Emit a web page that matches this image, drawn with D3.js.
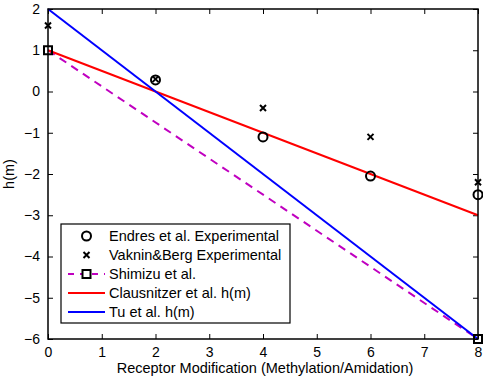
<!DOCTYPE html>
<html><head><meta charset="utf-8">
<script src="https://cdn.jsdelivr.net/npm/d3@7"></script>
<style>body{margin:0;background:#fff}svg{display:block}text{font-family:"Liberation Sans",Arial,sans-serif}</style>
</head><body><svg id="c" width="483" height="380"></svg>
<script>
const endresX = [2, 4, 6, 8];
const endresY = [0.28, -1.1, -2.05, -2.5];
const vakninX = [0, 2, 4, 6, 8];
const vakninY = [1.6, 0.3, -0.4, -1.1, -2.2];
const shimizuX = [0, 8];
const shimizuY = [1, -6];
const clausX = [0, 8];
const clausY = [1, -3];
const tuX = [0, 8];
const tuY = [2, -6];
const xTicks = [0,1,2,3,4,5,6,7,8];
const yTicks = [-6,-5,-4,-3,-2,-1,0,1,2];
const legendLabels = ["Endres et al. Experimental","Vaknin&Berg Experimental","Shimizu et al.","Clausnitzer et al. h(m)","Tu et al. h(m)"];

const svg = d3.select("#c");
const L=48, R=478, T=9, B=339;
const x = d3.scaleLinear().domain([0,8]).range([L,R]);
const y = d3.scaleLinear().domain([-6,2]).range([B,T]);

const gx = svg.append("g").attr("transform",`translate(0,${B})`)
  .call(d3.axisBottom(x).tickValues(xTicks).tickSizeInner(-5).tickSizeOuter(0).tickPadding(8));
const gxt = svg.append("g").attr("transform",`translate(0,${T})`)
  .call(d3.axisTop(x).tickValues(xTicks).tickSizeInner(-5).tickSizeOuter(0).tickFormat(""));
const gy = svg.append("g").attr("transform",`translate(${L},0)`)
  .call(d3.axisLeft(y).tickValues(yTicks).tickSizeInner(-5).tickSizeOuter(0).tickPadding(8).tickFormat(d=>d<0?"\u2212"+Math.abs(d):d));
const gyr = svg.append("g").attr("transform",`translate(${R},0)`)
  .call(d3.axisRight(y).tickValues(yTicks).tickSizeInner(-5).tickSizeOuter(0).tickFormat(""));
[gx,gxt,gy,gyr].forEach(g=>{
  g.select(".domain").remove();
  g.selectAll("line").attr("stroke","#000").attr("stroke-width",1);
  g.selectAll("text").attr("font-size",14).attr("fill","#000").attr("font-family","Liberation Sans, Arial, sans-serif");
});
gx.selectAll("text").attr("dy","0.7em");

const line = d3.line().x(d=>x(d[0])).y(d=>y(d[1]));
const plot = svg.append("g");
plot.append("path").datum(d3.zip(shimizuX,shimizuY)).attr("d",line).attr("fill","none")
  .attr("stroke","#c000c0").attr("stroke-width",2).attr("stroke-dasharray","8,6");
plot.append("path").datum(d3.zip(clausX,clausY)).attr("d",line).attr("fill","none")
  .attr("stroke","#ff0000").attr("stroke-width",2);
plot.append("path").datum(d3.zip(tuX,tuY)).attr("d",line).attr("fill","none")
  .attr("stroke","#0000ff").attr("stroke-width",2);

function square(g,cx,cy){ g.append("rect").attr("x",cx-4).attr("y",cy-4).attr("width",8).attr("height",8)
  .attr("fill","none").attr("stroke","#000").attr("stroke-width",2); }
function circ(g,cx,cy){ g.append("circle").attr("cx",cx).attr("cy",cy).attr("r",4.5)
  .attr("fill","none").attr("stroke","#000").attr("stroke-width",2); }
function cross(g,cx,cy){ const s=3;
  g.append("path").attr("d",`M${cx-s},${cy-s}L${cx+s},${cy+s}M${cx-s},${cy+s}L${cx+s},${cy-s}`)
  .attr("stroke","#000").attr("stroke-width",2); }

shimizuX.forEach((v,i)=>square(plot,x(v),y(shimizuY[i])));
endresX.forEach((v,i)=>circ(plot,x(v),y(endresY[i])));
vakninX.forEach((v,i)=>cross(plot,x(v),y(vakninY[i])));

svg.append("rect").attr("x",L).attr("y",T).attr("width",R-L).attr("height",B-T)
  .attr("fill","none").attr("stroke","#000").attr("stroke-width",1.5);

const lg = svg.append("g");
lg.append("rect").attr("x",61).attr("y",224).attr("width",229).attr("height",99)
  .attr("fill","#fff").attr("stroke","#000").attr("stroke-width",1.2);
const ly = [236,255,274,293,312];
const lx0=68, lx1=105, lmid=86.5;
circ(lg,lmid,ly[0]);
cross(lg,lmid,ly[1]);
lg.append("line").attr("x1",lx0).attr("x2",lx1).attr("y1",ly[2]).attr("y2",ly[2])
  .attr("stroke","#c000c0").attr("stroke-width",2).attr("stroke-dasharray","6,6");
lg.append("rect").attr("x",lmid-4).attr("y",ly[2]-4).attr("width",8).attr("height",8).attr("fill","#fff").attr("stroke","none");
square(lg,lmid,ly[2]);
lg.append("line").attr("x1",lx0).attr("x2",lx1).attr("y1",ly[3]).attr("y2",ly[3]).attr("stroke","#ff0000").attr("stroke-width",2);
lg.append("line").attr("x1",lx0).attr("x2",lx1).attr("y1",ly[4]).attr("y2",ly[4]).attr("stroke","#0000ff").attr("stroke-width",2);
legendLabels.forEach((t,i)=>lg.append("text").attr("x",109).attr("y",ly[i]).attr("dy","0.36em")
  .attr("font-size",14.5).attr("fill","#000").text(t));

svg.append("text").attr("x",(L+R)/2 + 2).attr("y",373).attr("text-anchor","middle").attr("font-size",14.5).attr("fill","#000")
  .text("Receptor Modification (Methylation/Amidation)");
svg.append("text").attr("transform",`translate(14,${(T+B)/2}) rotate(-90)`).attr("text-anchor","middle")
  .attr("font-size",14.5).attr("fill","#000").text("h(m)");
</script></body></html>
